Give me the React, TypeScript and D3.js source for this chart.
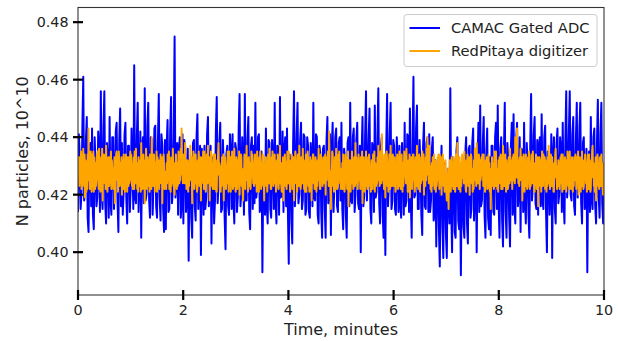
import React from "react";
import * as d3 from "d3";

// CAMAC Gated ADC readings (N particles, 10^10), evenly sampled over 0–10 minutes
const camac = [
  0.414, 0.441, 0.433, 0.415, 0.421, 0.444, 0.461, 0.418, 0.420, 0.439, 0.447, 0.412, 0.407, 0.436, 0.438, 0.416, 0.443, 0.413, 0.408, 0.440,
  0.430, 0.416, 0.419, 0.442, 0.436, 0.414, 0.456, 0.420, 0.415, 0.443, 0.456, 0.417, 0.410, 0.438, 0.432, 0.412, 0.447, 0.418, 0.413, 0.440,
  0.440, 0.415, 0.424, 0.442, 0.445, 0.418, 0.407, 0.439, 0.450, 0.416, 0.438, 0.413, 0.421, 0.441, 0.445, 0.419, 0.410, 0.437, 0.437, 0.414,
  0.422, 0.443, 0.430, 0.415, 0.465, 0.419, 0.417, 0.440, 0.452, 0.414, 0.426, 0.442, 0.405, 0.436, 0.440, 0.417, 0.457, 0.418, 0.420, 0.444,
  0.452, 0.418, 0.412, 0.440, 0.439, 0.413, 0.425, 0.443, 0.444, 0.416, 0.412, 0.438, 0.455, 0.419, 0.411, 0.441, 0.437, 0.415, 0.407, 0.439,
  0.408, 0.437, 0.446, 0.414, 0.415, 0.442, 0.454, 0.417, 0.421, 0.440, 0.475, 0.419, 0.424, 0.438, 0.413, 0.436, 0.440, 0.412, 0.417, 0.441,
  0.410, 0.439, 0.437, 0.414, 0.420, 0.436, 0.397, 0.431, 0.430, 0.412, 0.405, 0.438, 0.439, 0.416, 0.411, 0.440, 0.448, 0.415, 0.426, 0.437,
  0.399, 0.436, 0.430, 0.413, 0.437, 0.415, 0.419, 0.441, 0.447, 0.416, 0.425, 0.437, 0.403, 0.433, 0.432, 0.410, 0.418, 0.442, 0.454, 0.417,
  0.423, 0.438, 0.445, 0.414, 0.415, 0.439, 0.430, 0.412, 0.401, 0.434, 0.437, 0.416, 0.413, 0.441, 0.435, 0.415, 0.441, 0.418, 0.410, 0.438,
  0.436, 0.414, 0.419, 0.443, 0.455, 0.416, 0.421, 0.440, 0.433, 0.413, 0.455, 0.418, 0.418, 0.439, 0.447, 0.414, 0.408, 0.437, 0.440, 0.415,
  0.437, 0.417, 0.452, 0.419, 0.422, 0.440, 0.441, 0.414, 0.416, 0.435, 0.393, 0.428, 0.431, 0.413, 0.443, 0.416, 0.410, 0.439, 0.438, 0.415,
  0.412, 0.439, 0.432, 0.415, 0.452, 0.418, 0.410, 0.437, 0.436, 0.413, 0.454, 0.419, 0.420, 0.442, 0.414, 0.436, 0.440, 0.416, 0.443, 0.415,
  0.396, 0.434, 0.430, 0.411, 0.403, 0.438, 0.456, 0.416, 0.424, 0.441, 0.452, 0.417, 0.420, 0.439, 0.445, 0.415, 0.418, 0.441, 0.440, 0.413,
  0.415, 0.440, 0.437, 0.414, 0.412, 0.438, 0.433, 0.416, 0.452, 0.419, 0.418, 0.441, 0.440, 0.413, 0.410, 0.437, 0.434, 0.414, 0.405, 0.436,
  0.437, 0.415, 0.405, 0.439, 0.447, 0.417, 0.420, 0.441, 0.406, 0.436, 0.445, 0.414, 0.424, 0.440, 0.443, 0.416, 0.414, 0.438, 0.440, 0.418,
  0.445, 0.415, 0.408, 0.436, 0.433, 0.413, 0.405, 0.438, 0.440, 0.416, 0.452, 0.418, 0.417, 0.440, 0.443, 0.414, 0.420, 0.439, 0.445, 0.417,
  0.415, 0.437, 0.400, 0.434, 0.447, 0.416, 0.420, 0.441, 0.456, 0.418, 0.427, 0.440, 0.450, 0.415, 0.410, 0.438, 0.436, 0.414, 0.451, 0.419,
  0.421, 0.440, 0.457, 0.417, 0.410, 0.437, 0.440, 0.413, 0.405, 0.432, 0.399, 0.436, 0.455, 0.416, 0.423, 0.441, 0.452, 0.415, 0.418, 0.439,
  0.437, 0.415, 0.413, 0.440, 0.432, 0.414, 0.437, 0.417, 0.412, 0.438, 0.430, 0.413, 0.445, 0.416, 0.418, 0.441, 0.440, 0.414, 0.450, 0.418,
  0.405, 0.437, 0.461, 0.419, 0.420, 0.443, 0.451, 0.415, 0.415, 0.439, 0.430, 0.413, 0.406, 0.437, 0.445, 0.416, 0.415, 0.438, 0.440, 0.414,
  0.441, 0.414, 0.418, 0.436, 0.440, 0.411, 0.413, 0.432, 0.402, 0.428, 0.430, 0.408, 0.395, 0.426, 0.437, 0.409, 0.398, 0.431, 0.425, 0.406,
  0.398, 0.429, 0.420, 0.410, 0.457, 0.414, 0.400, 0.433, 0.430, 0.407, 0.405, 0.435, 0.440, 0.411, 0.408, 0.430, 0.392, 0.424, 0.428, 0.409,
  0.405, 0.434, 0.440, 0.410, 0.403, 0.436, 0.437, 0.412, 0.415, 0.438, 0.443, 0.411, 0.420, 0.436, 0.400, 0.431, 0.445, 0.414, 0.451, 0.416,
  0.418, 0.438, 0.447, 0.413, 0.405, 0.435, 0.443, 0.412, 0.408, 0.433, 0.406, 0.437, 0.437, 0.414, 0.413, 0.440, 0.445, 0.415, 0.451, 0.417,
  0.405, 0.436, 0.440, 0.411, 0.402, 0.434, 0.452, 0.414, 0.405, 0.438, 0.430, 0.412, 0.402, 0.437, 0.445, 0.413, 0.448, 0.416, 0.410, 0.439,
  0.445, 0.416, 0.420, 0.440, 0.407, 0.436, 0.435, 0.414, 0.445, 0.417, 0.410, 0.438, 0.430, 0.413, 0.405, 0.437, 0.455, 0.418, 0.423, 0.441,
  0.447, 0.417, 0.415, 0.439, 0.413, 0.437, 0.440, 0.416, 0.448, 0.418, 0.415, 0.440, 0.444, 0.414, 0.400, 0.435, 0.430, 0.413, 0.420, 0.441,
  0.398, 0.434, 0.440, 0.415, 0.410, 0.438, 0.443, 0.417, 0.420, 0.440, 0.436, 0.414, 0.445, 0.418, 0.410, 0.439, 0.456, 0.419, 0.425, 0.442,
  0.456, 0.420, 0.418, 0.441, 0.447, 0.416, 0.413, 0.439, 0.452, 0.419, 0.422, 0.443, 0.452, 0.417, 0.410, 0.438, 0.440, 0.415, 0.418, 0.436,
  0.393, 0.431, 0.435, 0.414, 0.447, 0.418, 0.415, 0.440, 0.443, 0.416, 0.410, 0.438, 0.453, 0.419, 0.412, 0.441, 0.452, 0.417, 0.410, 0.421,
];

// RedPitaya digitizer readings (N particles, 10^10), evenly sampled over 0–10 minutes
const redpitaya = [
  0.426, 0.433, 0.430, 0.423, 0.433, 0.424, 0.427, 0.435, 0.422, 0.434, 0.431, 0.423, 0.436, 0.424, 0.425, 0.434, 0.419, 0.432, 0.428, 0.421, 0.430, 0.422, 0.434, 0.425, 0.443, 0.426, 0.431, 0.422, 0.424, 0.435, 0.429, 0.421, 0.434, 0.423, 0.426, 0.435, 0.421, 0.433, 0.428, 0.422,
  0.431, 0.423, 0.425, 0.434, 0.427, 0.435, 0.432, 0.422, 0.436, 0.424, 0.428, 0.421, 0.423, 0.433, 0.426, 0.436, 0.418, 0.431, 0.427, 0.434, 0.432, 0.424, 0.429, 0.422, 0.437, 0.425, 0.431, 0.421, 0.425, 0.433, 0.430, 0.423, 0.433, 0.424, 0.427, 0.435, 0.422, 0.432, 0.429, 0.423,
  0.429, 0.422, 0.424, 0.433, 0.417, 0.431, 0.426, 0.434, 0.435, 0.425, 0.429, 0.421, 0.424, 0.435, 0.430, 0.423, 0.431, 0.424, 0.426, 0.433, 0.420, 0.432, 0.428, 0.422, 0.434, 0.426, 0.430, 0.421, 0.427, 0.434, 0.425, 0.432, 0.421, 0.433, 0.428, 0.423, 0.433, 0.424, 0.427, 0.435,
  0.425, 0.434, 0.431, 0.423, 0.430, 0.422, 0.426, 0.433, 0.422, 0.435, 0.429, 0.424, 0.436, 0.425, 0.431, 0.422, 0.428, 0.421, 0.433, 0.424, 0.432, 0.423, 0.429, 0.421, 0.438, 0.426, 0.430, 0.422, 0.424, 0.434, 0.423, 0.432, 0.417, 0.430, 0.425, 0.436, 0.430, 0.422, 0.427, 0.433,
  0.423, 0.432, 0.428, 0.421, 0.434, 0.425, 0.431, 0.422, 0.440, 0.427, 0.429, 0.423, 0.425, 0.434, 0.430, 0.421, 0.431, 0.424, 0.426, 0.435, 0.421, 0.433, 0.427, 0.432, 0.429, 0.422, 0.432, 0.424, 0.434, 0.425, 0.426, 0.433, 0.417, 0.429, 0.425, 0.434, 0.430, 0.422, 0.428, 0.423,
  0.428, 0.422, 0.431, 0.424, 0.434, 0.425, 0.427, 0.435, 0.422, 0.433, 0.429, 0.421, 0.430, 0.423, 0.433, 0.424, 0.436, 0.426, 0.428, 0.421, 0.420, 0.431, 0.426, 0.434, 0.429, 0.422, 0.431, 0.423, 0.425, 0.435, 0.430, 0.424, 0.433, 0.425, 0.436, 0.427, 0.443, 0.428, 0.432, 0.424,
  0.426, 0.434, 0.433, 0.424, 0.438, 0.427, 0.430, 0.422, 0.423, 0.432, 0.428, 0.421, 0.431, 0.423, 0.432, 0.425, 0.437, 0.426, 0.426, 0.433, 0.417, 0.430, 0.424, 0.435, 0.429, 0.422, 0.427, 0.434, 0.434, 0.424, 0.428, 0.421, 0.422, 0.432, 0.427, 0.435, 0.430, 0.423, 0.425, 0.433,
  0.418, 0.430, 0.424, 0.433, 0.427, 0.435, 0.430, 0.422, 0.435, 0.425, 0.429, 0.421, 0.423, 0.434, 0.431, 0.424, 0.437, 0.426, 0.427, 0.433, 0.418, 0.431, 0.425, 0.435, 0.431, 0.423, 0.428, 0.422, 0.426, 0.434, 0.431, 0.422, 0.434, 0.424, 0.428, 0.421, 0.421, 0.432, 0.427, 0.434,
  0.438, 0.427, 0.431, 0.422, 0.428, 0.421, 0.430, 0.423, 0.433, 0.425, 0.426, 0.434, 0.418, 0.430, 0.425, 0.433, 0.430, 0.422, 0.428, 0.424, 0.424, 0.435, 0.430, 0.421, 0.435, 0.426, 0.427, 0.433, 0.421, 0.431, 0.426, 0.435, 0.429, 0.422, 0.432, 0.423, 0.436, 0.425, 0.429, 0.421,
  0.425, 0.433, 0.429, 0.422, 0.432, 0.424, 0.427, 0.435, 0.420, 0.431, 0.426, 0.434, 0.433, 0.423, 0.428, 0.421, 0.418, 0.429, 0.424, 0.434, 0.430, 0.422, 0.432, 0.425, 0.437, 0.426, 0.430, 0.421, 0.424, 0.433, 0.428, 0.423, 0.431, 0.422, 0.426, 0.435, 0.427, 0.434, 0.431, 0.424,
  0.430, 0.423, 0.427, 0.434, 0.424, 0.432, 0.429, 0.421, 0.435, 0.425, 0.430, 0.422, 0.421, 0.433, 0.426, 0.435, 0.431, 0.422, 0.428, 0.424, 0.427, 0.434, 0.423, 0.431, 0.418, 0.429, 0.426, 0.433, 0.433, 0.423, 0.429, 0.421, 0.425, 0.434, 0.431, 0.424, 0.436, 0.426, 0.430, 0.422,
  0.422, 0.433, 0.427, 0.435, 0.430, 0.423, 0.432, 0.424, 0.434, 0.425, 0.428, 0.421, 0.423, 0.432, 0.426, 0.434, 0.429, 0.422, 0.433, 0.424, 0.437, 0.427, 0.429, 0.423, 0.421, 0.431, 0.424, 0.433, 0.418, 0.428, 0.425, 0.434, 0.431, 0.423, 0.428, 0.422, 0.426, 0.435, 0.430, 0.424,
  0.435, 0.425, 0.428, 0.421, 0.422, 0.432, 0.427, 0.434, 0.430, 0.422, 0.425, 0.433, 0.418, 0.429, 0.426, 0.435, 0.433, 0.424, 0.430, 0.421, 0.427, 0.434, 0.432, 0.423, 0.437, 0.426, 0.429, 0.422, 0.424, 0.433, 0.431, 0.424, 0.436, 0.425, 0.432, 0.422, 0.429, 0.421, 0.426, 0.434,
  0.421, 0.431, 0.427, 0.435, 0.432, 0.423, 0.428, 0.421, 0.426, 0.433, 0.423, 0.432, 0.418, 0.430, 0.427, 0.434, 0.434, 0.424, 0.429, 0.422, 0.423, 0.433, 0.428, 0.421, 0.430, 0.423, 0.432, 0.425, 0.436, 0.426, 0.428, 0.422, 0.422, 0.434, 0.426, 0.433, 0.429, 0.423, 0.431, 0.424,
  0.433, 0.424, 0.427, 0.434, 0.420, 0.431, 0.425, 0.433, 0.427, 0.435, 0.433, 0.423, 0.442, 0.429, 0.428, 0.421, 0.415, 0.428, 0.424, 0.435, 0.434, 0.423, 0.429, 0.421, 0.425, 0.433, 0.431, 0.422, 0.436, 0.426, 0.428, 0.422, 0.423, 0.434, 0.427, 0.435, 0.431, 0.424, 0.429, 0.422,
  0.428, 0.423, 0.431, 0.422, 0.434, 0.425, 0.428, 0.421, 0.423, 0.434, 0.427, 0.433, 0.431, 0.422, 0.425, 0.435, 0.416, 0.428, 0.424, 0.432, 0.429, 0.421, 0.432, 0.424, 0.435, 0.426, 0.429, 0.422, 0.424, 0.433, 0.431, 0.423, 0.438, 0.428, 0.433, 0.424, 0.430, 0.422, 0.427, 0.434,
  0.425, 0.432, 0.429, 0.422, 0.433, 0.424, 0.426, 0.435, 0.417, 0.430, 0.424, 0.433, 0.428, 0.421, 0.431, 0.423, 0.435, 0.425, 0.429, 0.422, 0.422, 0.433, 0.427, 0.434, 0.431, 0.423, 0.428, 0.421, 0.426, 0.432, 0.430, 0.422, 0.434, 0.424, 0.427, 0.435, 0.421, 0.431, 0.428, 0.423,
  0.430, 0.424, 0.433, 0.425, 0.437, 0.428, 0.431, 0.423, 0.425, 0.435, 0.432, 0.424, 0.441, 0.430, 0.434, 0.425, 0.428, 0.422, 0.425, 0.434, 0.419, 0.431, 0.427, 0.435, 0.432, 0.423, 0.429, 0.421, 0.424, 0.434, 0.430, 0.422, 0.437, 0.427, 0.431, 0.423, 0.427, 0.434, 0.430, 0.423,
  0.433, 0.424, 0.428, 0.421, 0.422, 0.433, 0.426, 0.434, 0.430, 0.422, 0.432, 0.423, 0.435, 0.426, 0.429, 0.422, 0.424, 0.434, 0.428, 0.421, 0.431, 0.423, 0.426, 0.435, 0.427, 0.433, 0.432, 0.424, 0.436, 0.427, 0.428, 0.421, 0.421, 0.432, 0.425, 0.434, 0.419, 0.430, 0.426, 0.433,
  0.430, 0.422, 0.427, 0.434, 0.434, 0.425, 0.429, 0.421, 0.425, 0.433, 0.431, 0.423, 0.437, 0.428, 0.430, 0.422, 0.423, 0.434, 0.428, 0.421, 0.431, 0.424, 0.433, 0.425, 0.435, 0.426, 0.427, 0.434, 0.420, 0.431, 0.428, 0.423, 0.433, 0.425, 0.436, 0.427, 0.440, 0.429, 0.432, 0.424,
  0.437, 0.426, 0.430, 0.422, 0.428, 0.421, 0.431, 0.423, 0.433, 0.425, 0.427, 0.434, 0.422, 0.432, 0.428, 0.421, 0.430, 0.423, 0.426, 0.433, 0.425, 0.434, 0.431, 0.422, 0.434, 0.424, 0.427, 0.433, 0.420, 0.430, 0.426, 0.434, 0.431, 0.423, 0.428, 0.421, 0.424, 0.432, 0.425, 0.421,
  0.418, 0.427, 0.422, 0.429, 0.415, 0.426, 0.424, 0.432, 0.429, 0.421, 0.426, 0.433, 0.423, 0.431, 0.429, 0.422, 0.433, 0.424, 0.428, 0.421, 0.427, 0.434, 0.432, 0.423, 0.438, 0.427, 0.430, 0.422, 0.424, 0.433, 0.428, 0.421, 0.431, 0.423, 0.427, 0.434, 0.426, 0.433, 0.431, 0.424,
  0.435, 0.424, 0.429, 0.422, 0.421, 0.432, 0.426, 0.434, 0.430, 0.423, 0.427, 0.433, 0.420, 0.430, 0.426, 0.434, 0.433, 0.424, 0.429, 0.421, 0.428, 0.422, 0.432, 0.425, 0.436, 0.427, 0.431, 0.423, 0.438, 0.429, 0.430, 0.424, 0.425, 0.434, 0.429, 0.422, 0.432, 0.425, 0.427, 0.433,
  0.427, 0.434, 0.431, 0.423, 0.434, 0.425, 0.428, 0.421, 0.422, 0.432, 0.427, 0.433, 0.430, 0.422, 0.425, 0.434, 0.426, 0.431, 0.421, 0.429, 0.415, 0.427, 0.424, 0.433, 0.431, 0.423, 0.428, 0.422, 0.424, 0.435, 0.430, 0.423, 0.435, 0.426, 0.429, 0.422, 0.428, 0.421, 0.432, 0.425,
  0.433, 0.424, 0.427, 0.434, 0.422, 0.431, 0.429, 0.422, 0.437, 0.428, 0.431, 0.423, 0.426, 0.434, 0.429, 0.421, 0.432, 0.424, 0.428, 0.422, 0.423, 0.433, 0.430, 0.424, 0.436, 0.427, 0.432, 0.425, 0.429, 0.422, 0.433, 0.425, 0.434, 0.426, 0.431, 0.424, 0.440, 0.430, 0.434, 0.426,
  0.443, 0.429, 0.432, 0.424, 0.430, 0.423, 0.433, 0.425, 0.436, 0.426, 0.427, 0.433, 0.418, 0.429, 0.425, 0.434, 0.428, 0.421, 0.431, 0.423, 0.434, 0.424, 0.428, 0.422, 0.423, 0.433, 0.427, 0.435, 0.431, 0.422, 0.429, 0.423, 0.427, 0.434, 0.432, 0.424, 0.435, 0.425, 0.428, 0.421,
  0.421, 0.431, 0.426, 0.434, 0.429, 0.422, 0.424, 0.433, 0.416, 0.427, 0.425, 0.433, 0.432, 0.423, 0.429, 0.421, 0.426, 0.435, 0.431, 0.423, 0.434, 0.425, 0.427, 0.433, 0.422, 0.432, 0.428, 0.421, 0.430, 0.423, 0.433, 0.424, 0.437, 0.427, 0.430, 0.422, 0.425, 0.434, 0.429, 0.423,
  0.433, 0.425, 0.428, 0.421, 0.421, 0.431, 0.427, 0.434, 0.436, 0.426, 0.430, 0.422, 0.428, 0.423, 0.432, 0.424, 0.431, 0.422, 0.426, 0.433, 0.424, 0.434, 0.429, 0.421, 0.434, 0.425, 0.428, 0.422, 0.427, 0.433, 0.425, 0.432, 0.421, 0.430, 0.427, 0.435, 0.432, 0.423, 0.429, 0.422,
  0.435, 0.424, 0.430, 0.422, 0.424, 0.433, 0.428, 0.421, 0.430, 0.423, 0.433, 0.425, 0.426, 0.434, 0.429, 0.422, 0.433, 0.424, 0.427, 0.435, 0.420, 0.430, 0.426, 0.433, 0.429, 0.421, 0.431, 0.423, 0.435, 0.426, 0.428, 0.422, 0.423, 0.432, 0.427, 0.434, 0.431, 0.424, 0.428, 0.421,
  0.427, 0.434, 0.431, 0.422, 0.434, 0.425, 0.429, 0.421, 0.422, 0.432, 0.427, 0.435, 0.437, 0.426, 0.431, 0.423, 0.428, 0.421, 0.425, 0.433, 0.418, 0.430, 0.424, 0.434, 0.432, 0.423, 0.429, 0.422, 0.425, 0.433, 0.430, 0.423, 0.434, 0.425, 0.428, 0.422, 0.420, 0.431, 0.426,
];

const xTicks = [0, 2, 4, 6, 8, 10];
const yTicks = [0.4, 0.42, 0.44, 0.46, 0.48];
const seriesNames = ["CAMAC Gated ADC", "RedPitaya digitizer"];
const seriesColors = ["#0000ff", "#ffa500"];
const xLabel = "Time, minutes";
const yLabel = "N particles, 10^10";
const timeSpan = [0, 10];

export default function App() {
  const W = 618;
  const H = 341;
  const L = 78, R = 604, T = 7.5, B = 295;
  const x = d3.scaleLinear().domain(timeSpan).range([L, R]);
  const y = d3.scaleLinear().domain([0.3851, 0.4851]).range([B, T]);
  const font = "DejaVu Sans, sans-serif";

  const mkLine = (vals: number[]) => {
    const n = vals.length;
    const t = d3.scaleLinear().domain([0, n - 1]).range(timeSpan);
    return d3
      .line<number>()
      .x((_, i) => x(t(i)))
      .y((d) => y(d))(vals) as string;
  };

  const series = [camac, redpitaya];

  return (
    <svg
      width={W}
      height={H}
      style={{ position: "absolute", left: 0, top: 0, background: "#fff" }}
      fontFamily={font}
    >
      <defs>
        <clipPath id="plotclip">
          <rect x={L} y={T} width={R - L} height={B - T} />
        </clipPath>
      </defs>
      <rect x={0} y={0} width={W} height={H} fill="#fff" />
      <g clipPath="url(#plotclip)">
        {series.map((s, i) => (
          <path
            key={i}
            d={mkLine(s)}
            fill="none"
            stroke={seriesColors[i]}
            strokeWidth={2}
            strokeLinejoin="round"
          />
        ))}
      </g>
      <rect x={L} y={T} width={R - L} height={B - T} fill="none" stroke="#333" strokeWidth={1.1} />
      {yTicks.map((v) => (
        <g key={v}>
          <line x1={L - 5} x2={L + 5} y1={y(v)} y2={y(v)} stroke="#000" strokeWidth={2.2} />
          <text x={L - 9.5} y={y(v)} dy="0.36em" textAnchor="end" fontSize={14.3} fill="#222">
            {v.toFixed(2)}
          </text>
        </g>
      ))}
      {xTicks.map((v) => (
        <g key={v}>
          <line x1={x(v)} x2={x(v)} y1={B - 5} y2={B + 5} stroke="#000" strokeWidth={2.2} />
          <text x={x(v)} y={314.5} textAnchor="middle" fontSize={14.3} fill="#222">
            {v}
          </text>
        </g>
      ))}
      <text x={(L + R) / 2} y={335} textAnchor="middle" fontSize={16} fill="#222">
        {xLabel}
      </text>
      <text
        transform={`translate(27.5, ${(T + B) / 2}) rotate(-90)`}
        textAnchor="middle"
        fontSize={16}
        fill="#222"
      >
        {yLabel}
      </text>
      <g>
        <rect x={404} y={14.5} width={193} height={52} rx={3} fill="#fff" fillOpacity={0.8} stroke="#ccc" strokeWidth={1} />
        {seriesNames.map((nm, i) => (
          <g key={nm}>
            <line x1={409.5} x2={440} y1={28 + i * 23} y2={28 + i * 23} stroke={seriesColors[i]} strokeWidth={2} />
            <text x={451} y={28 + i * 23} dy="0.36em" fontSize={14.7} fill="#222">
              {nm}
            </text>
          </g>
        ))}
      </g>
    </svg>
  );
}
